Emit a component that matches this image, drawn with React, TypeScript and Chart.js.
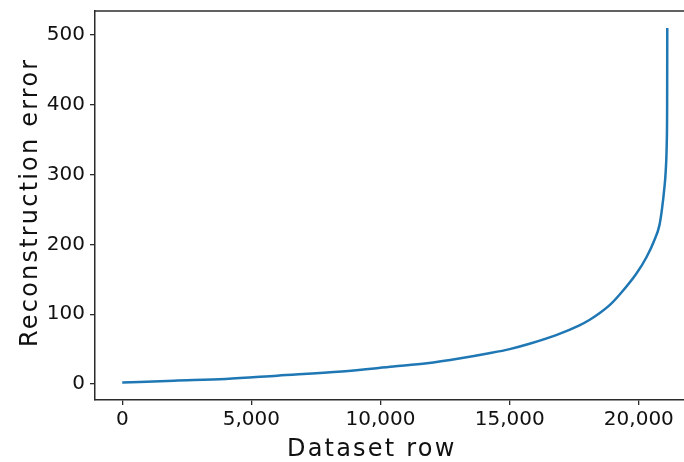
import React, { useEffect, useRef } from "react";
import { Chart, registerables } from "chart.js";

Chart.register(...registerables);

// Sorted reconstruction error per dataset row
const rows = [0, 2000, 4000, 6000, 8500, 10500, 11800, 13100, 14200, 15000, 15800, 16800, 17700, 18100, 18500, 18900, 19300, 19900, 20300, 20600, 20800, 20900, 20980, 21040, 21080, 21095, 21100];
const errors = [2, 4.8, 7.2, 12, 18, 25, 29.6, 36.8, 44, 50, 58, 70, 84, 92, 102, 114, 130, 158, 182, 206, 228, 252, 278, 305, 345, 400, 510];

const xTickValues = [0, 5000, 10000, 15000, 20000];
const yTickValues = [0, 100, 200, 300, 400, 500];

const xTitle = "Dataset row";
const yTitle = "Reconstruction error";

const SPINE = "#2b2b2b";
const TEXT = "#111111";
const FONT_FAMILY = '"DejaVu Sans", Verdana, sans-serif';

const extrasPlugin = {
  id: "spinesTitles",
  afterDraw(chart: any) {
    const { ctx, chartArea } = chart;
    ctx.save();
    ctx.strokeStyle = SPINE;
    ctx.lineWidth = 1.5;
    ctx.beginPath();
    ctx.moveTo(chartArea.left - 0.75, chartArea.top);
    ctx.lineTo(chart.width, chartArea.top);
    ctx.stroke();

    ctx.fillStyle = TEXT;
    ctx.font = `24px ${FONT_FAMILY}`;
    try {
      (ctx as any).letterSpacing = "2.2px";
    } catch (e) {}
    ctx.textBaseline = "alphabetic";
    ctx.textAlign = "left";
    ctx.fillText(xTitle, 287, 456);
    ctx.translate(37, 347);
    ctx.rotate(-Math.PI / 2);
    ctx.fillText(yTitle, 0, 0);
    ctx.restore();
  },
};

export default function App() {
  const ref = useRef<HTMLCanvasElement | null>(null);

  useEffect(() => {
    if (!ref.current) return;
    const chart = new Chart(ref.current, {
      type: "line",
      data: {
        datasets: [
          {
            data: rows.map((r, i) => ({ x: r, y: errors[i] })),
            borderColor: "#1f77b4",
            backgroundColor: "#1f77b4",
            borderWidth: 2.5,
            pointRadius: 0,
            cubicInterpolationMode: "monotone",
            fill: false,
          },
        ],
      },
      options: {
        animation: false,
        responsive: false,
        devicePixelRatio: 1,
        layout: { padding: { top: 11, right: 0, left: 0, bottom: 0 } },
        plugins: { legend: { display: false }, tooltip: { enabled: false } },
        scales: {
          x: {
            type: "linear",
            min: -1055,
            max: 21748,
            afterBuildTicks: (scale: any) => {
              scale.ticks = xTickValues.map((v) => ({ value: v }));
            },
            afterFit: (scale: any) => {
              scale.height = 62;
              scale.paddingLeft = 0;
              scale.paddingRight = 0;
            },
            ticks: {
              font: { family: FONT_FAMILY, size: 20 },
              color: TEXT,
              padding: 3,
              maxRotation: 0,
              callback: (v: any) => Number(v).toLocaleString("en-US"),
            },
            grid: {
              drawOnChartArea: false,
              drawTicks: true,
              tickLength: 5,
              color: SPINE,
              lineWidth: 1.3,
            },
            border: { display: true, color: SPINE, width: 1.5 },
          },
          y: {
            type: "linear",
            min: -22.9,
            max: 534.4,
            afterBuildTicks: (scale: any) => {
              scale.ticks = yTickValues.map((v) => ({ value: v }));
            },
            afterFit: (scale: any) => {
              scale.width = 95;
              scale.paddingTop = 0;
              scale.paddingBottom = 0;
            },
            ticks: {
              font: { family: FONT_FAMILY, size: 20 },
              color: TEXT,
              padding: 5,
              callback: (v: any) => String(v),
            },
            grid: {
              drawOnChartArea: false,
              drawTicks: true,
              tickLength: 5,
              color: SPINE,
              lineWidth: 1.3,
            },
            border: { display: true, color: SPINE, width: 1.5 },
          },
        },
      },
      plugins: [extrasPlugin],
    } as any);
    return () => chart.destroy();
  }, []);

  return (
    <div style={{ position: "absolute", left: 0, top: 0, width: 684, height: 462, background: "#fff" }}>
      <canvas ref={ref} width={684} height={462} style={{ display: "block" }} />
    </div>
  );
}
